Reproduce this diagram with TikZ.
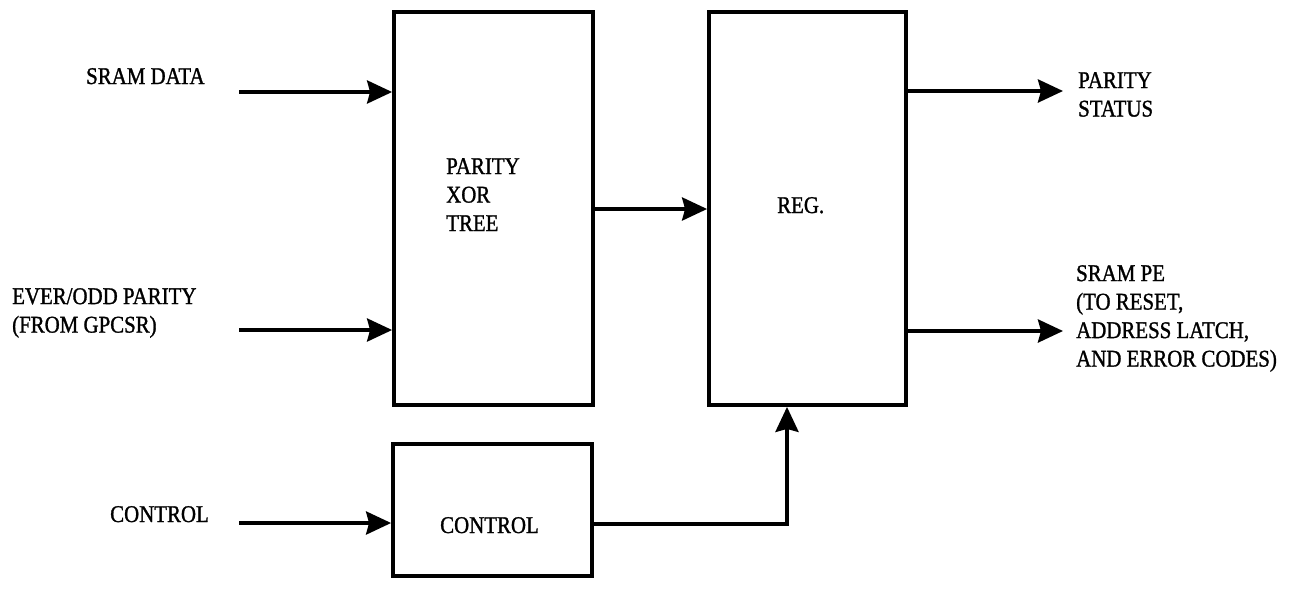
\documentclass[tikz,border=0pt]{standalone}
\usepackage{fontspec}
\setmainfont[FakeStretch=0.87,FakeBold=1.2]{Liberation Serif}
\usetikzlibrary{arrows.meta}
\tikzset{
  blk/.style={draw=black, line width=3.8pt, fill=none, inner sep=0pt},
  lbl/.style={font=\fontsize{24}{28.5}\selectfont, inner sep=0pt, align=left},
  conn/.style={line width=3.8pt, -{Stealth[length=25pt,width=23pt,inset=3pt]}},
  wire/.style={line width=3.8pt}
}
\begin{document}
\begin{tikzpicture}[x=1pt,y=-1pt]
\useasboundingbox (0,0) rectangle (1298,603);
% blocks
\node[blk, minimum width=199pt, minimum height=393pt] (xor) at (493.5,208.5) {};
\node[blk, minimum width=197pt, minimum height=393pt] (reg) at (807.5,208.5) {};
\node[blk, minimum width=199pt, minimum height=132pt] (ctl) at (492.5,510) {};
% block texts
\node[lbl, anchor=north west] (xortxt) at (446,158) {PARITY\\XOR\\TREE};
\node[lbl, anchor=base west] (regtxt) at (777,213) {REG.};
\node[lbl, anchor=base west] (ctltxt) at (440,533) {CONTROL};
% input labels
\node[lbl, anchor=base west] (sramdata) at (86,84) {SRAM DATA};
\node[lbl, anchor=north west] (evenodd) at (12,288) {EVER/ODD PARITY\\(FROM GPCSR)};
\node[lbl, anchor=base west] (ctlin) at (110,522) {CONTROL};
% output labels
\node[lbl, anchor=north west] (pstat) at (1078,72) {PARITY\\STATUS};
\node[lbl, anchor=north west] (srampe) at (1076,265) {SRAM PE\\(TO RESET,\\ADDRESS LATCH,\\AND ERROR CODES)};
% connector free ends
\coordinate (in1) at (239,92);
\coordinate (in2) at (239,330);
\coordinate (in3) at (239,523);
\coordinate (out1) at (1063,91);
\coordinate (out2) at (1063,331);
\coordinate (bend) at (787,524);
% connectors
\draw[conn] (in1) -- (xor.west |- in1);
\draw[conn] (in2) -- (xor.west |- in2);
\draw[conn] (in3) -- (ctl.west |- in3);
\draw[conn] (xor.east |- 0,209) -- (reg.west |- 0,209);
\draw[conn] (reg.east |- out1) -- (out1);
\draw[conn] (reg.east |- out2) -- (out2);
\draw[conn] (ctl.east |- bend) -- (bend) -- (reg.south -| bend);
\end{tikzpicture}
\end{document}
